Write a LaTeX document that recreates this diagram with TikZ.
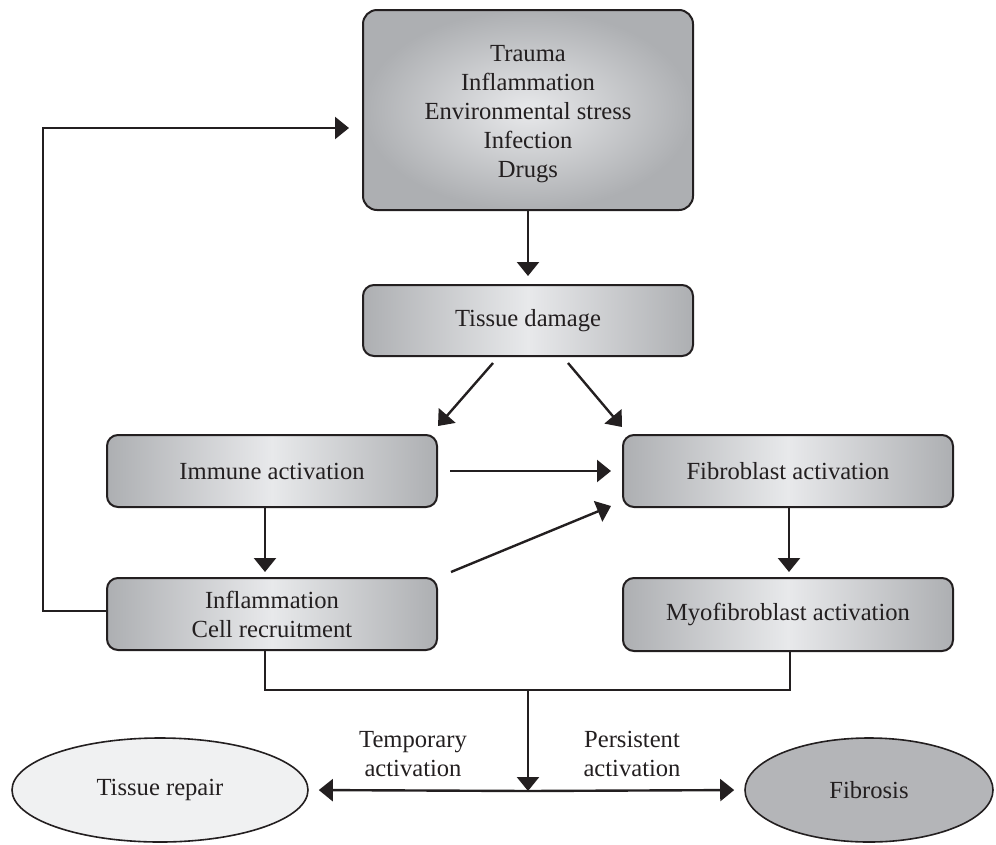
\documentclass[tikz,border=0pt]{standalone}
\usepackage{fontspec}
\setmainfont{Liberation Serif}
\usetikzlibrary{shapes.geometric,arrows.meta,calc}
\definecolor{ink}{HTML}{231F20}
\definecolor{boxdark}{HTML}{ADAFB2}
\definecolor{boxlight}{HTML}{E8E9EB}
\definecolor{repairfill}{HTML}{F0F1F2}
\definecolor{fibfill}{HTML}{B4B5B8}
\tikzset{
  every node/.style={font=\fontsize{24.6}{29}\selectfont, text=ink, align=center},
  gbox/.style={draw=ink, line width=2pt, rounded corners=11pt, minimum width=330pt, inner sep=0pt,
    left color=boxdark, right color=boxdark, middle color=boxlight},
  rbox/.style={draw=ink, line width=2pt, rounded corners=14pt, minimum width=330pt, minimum height=200pt, inner sep=0pt,
    inner color=boxlight, outer color=boxdark},
  oval/.style={ellipse, draw=ink, line width=1.6pt, inner sep=0pt},
  arr/.style={draw=ink, line width=2.4pt, -{Triangle[length=14pt,width=22pt]}},
  ln/.style={draw=ink, line width=2.4pt},
}
\begin{document}
\begin{tikzpicture}[x=1pt,y=-1pt]
\useasboundingbox (0,0) rectangle (996,844);
% nodes
\node[rbox] (top) at (528,110) {\rule{0pt}{25pt}Trauma\\Inflammation\\Environmental stress\\Infection\\Drugs};
\node[gbox, minimum height=71pt] (tissue) at (528,320.5) {Tissue damage};
\node[gbox, minimum height=72pt] (immune) at (272,471) {Immune activation};
\node[gbox, minimum height=72pt] (fibro) at (788,471) {Fibroblast activation};
\node[gbox, minimum height=72pt] (inflam) at (272,614) {Inflammation\\Cell recruitment};
\node[gbox, minimum height=73pt] (myo) at (788,614.5) {Myofibroblast activation};
\node[oval, fill=repairfill, minimum width=296pt, minimum height=104pt] (repair) at (160,790) {Tissue repair};
\node[oval, fill=fibfill, minimum width=248pt, minimum height=104pt] (fibrosis) at (869,790) {Fibrosis};
\node (temp) at (413,754) {Temporary\\activation};
\node (pers) at (632,754) {Persistent\\activation};
% coordinates
\coordinate (fbk) at (43,611);
\coordinate (jl) at (265,690);
\coordinate (jr) at (790,690);
\coordinate (jc) at (528,690);
\coordinate (split) at (528,791);
% connectors
\draw[arr, shorten >=8pt] (top.south) -- (tissue.north);
\draw[arr] ($(tissue.south)+(-35,6)$) -- ($(immune.north east)+(0,-8)$);
\draw[arr] ($(tissue.south)+(40,6)$) -- ($(fibro.north west)+(0,-7)$);
\draw[arr] ($(immune.east)+(12,0)$) -- ($(fibro.west)+(-11,0)$);
\draw[arr] ($(inflam.north east)+(13,-5)$) -- ($(fibro.south west)+(-11,-2)$);
\draw[arr, shorten >=5pt] ($(immune.south)+(-7,0)$) -- ($(inflam.north)+(-7,0)$);
\draw[arr, shorten >=5pt] ($(fibro.south)+(1,0)$) -- ($(myo.north)+(1,0)$);
\draw[arr] ($(inflam.west)+(0,-3)$) -- (fbk) |- ($(top.west)+(-13,18)$);
\draw[ln] ($(inflam.south)+(-7,0)$) -- (jl) -- (jr) -- ($(myo.south)+(2,0)$);
\draw[arr] (jc) -- (split);
\draw[arr, shorten >=10pt] (split) -- (repair.east);
\draw[arr, shorten >=10pt] (split) -- (fibrosis.west);
\end{tikzpicture}
\end{document}
